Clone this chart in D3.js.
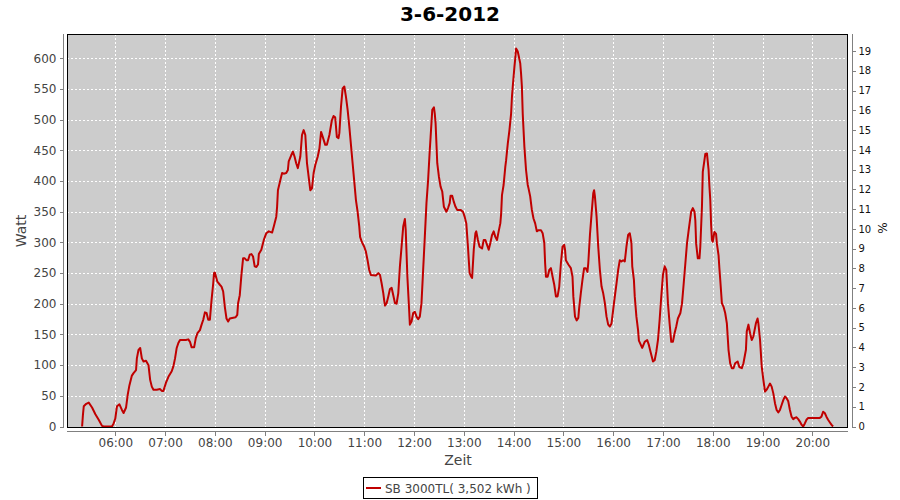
<!DOCTYPE html>
<html><head><meta charset="utf-8">
<script src="https://cdn.jsdelivr.net/npm/d3@7"></script>
<style>
html,body{margin:0;padding:0;background:#fff;}
svg{display:block;font-family:"DejaVu Sans",sans-serif;}
</style></head>
<body>
<svg id="chart" width="900" height="500"></svg>
<script>
const title = "3-6-2012";
const seriesName = "SB 3000TL( 3,502 kWh )";
const xLabel = "Zeit";
const yLabel = "Watt";
const y2Label = "%";
const times = [
"05:20","05:21","05:22","05:25","05:28","05:32","05:36","05:40","05:44","05:46","05:56","05:58",
"06:00","06:02","06:05","06:08","06:10","06:13","06:15","06:17","06:20","06:22","06:25","06:26","06:28","06:30","06:32","06:34","06:37","06:40","06:42","06:44","06:46","06:50","06:54","06:56","06:58",
"07:01","07:04","07:08","07:10","07:12","07:14","07:16","07:18","07:25","07:28","07:30","07:32","07:35","07:37","07:39","07:42","07:44","07:46","07:48","07:50","07:52","07:54","07:56","07:58","07:59",
"08:00","08:03","08:06","08:08","08:10","08:12","08:14","08:16","08:18","08:25","08:27","08:28","08:30","08:32","08:34","08:36","08:38","08:40","08:42","08:44","08:46","08:48","08:50","08:52","08:53","08:56","08:59",
"09:02","09:05","09:09","09:11","09:14","09:15","09:16","09:19","09:21","09:23","09:26","09:28","09:29","09:32","09:34","09:36","09:38","09:40","09:43","09:45","09:47","09:49","09:51","09:53","09:55","09:57","09:59",
"10:01","10:04","10:06","10:08","10:10","10:13","10:15","10:18","10:21","10:23","10:25","10:27","10:29","10:30","10:32","10:34","10:36","10:38","10:40","10:42","10:44","10:46","10:48","10:50","10:52","10:54","10:55","10:57",
"11:00","11:02","11:04","11:06","11:08","11:14","11:17","11:19","11:21","11:23","11:24","11:25","11:27","11:29","11:31","11:33","11:35","11:37","11:39","11:41","11:43","11:45","11:47","11:49","11:50","11:52","11:54","11:55","11:57","11:59",
"12:01","12:03","12:05","12:07","12:09","12:11","12:13","12:15","12:17","12:19","12:20","12:22","12:24","12:25","12:26","12:28","12:30","12:32","12:34","12:36","12:39","12:41","12:43","12:44","12:46","12:48","12:50","12:52","12:56","12:59",
"13:01","13:03","13:05","13:06","13:07","13:09","13:10","13:12","13:14","13:15","13:17","13:19","13:22","13:24","13:26","13:28","13:30","13:32","13:34","13:36","13:38","13:40","13:42","13:44","13:45","13:46","13:48","13:50","13:51","13:53","13:55","13:57","13:58","13:59",
"14:01","14:02","14:03","14:05","14:06","14:08","14:09","14:10","14:11","14:12","14:13","14:14","14:15","14:17","14:18","14:20","14:22","14:24","14:26","14:28","14:30","14:33","14:35","14:37","14:38","14:39","14:41","14:43","14:45","14:47","14:49","14:51","14:53","14:55","14:57","14:59",
"15:01","15:02","15:03","15:06","15:09","15:11","15:12","15:14","15:16","15:18","15:19","15:21","15:23","15:25","15:27","15:29","15:30","15:32","15:34","15:36","15:37","15:38","15:40","15:42","15:44","15:46","15:48","15:50","15:52","15:54","15:56","15:58",
"16:00","16:02","16:04","16:06","16:08","16:10","16:12","16:14","16:16","16:18","16:20","16:22","16:23","16:25","16:26","16:28","16:30","16:31","16:35","16:38","16:41","16:43","16:45","16:48","16:50","16:52","16:54","16:56","16:58",
"17:00","17:02","17:04","17:06","17:08","17:10","17:12","17:14","17:16","17:18","17:21","17:23","17:25","17:27","17:29","17:31","17:34","17:36","17:38","17:39","17:40","17:42","17:44","17:45","17:47","17:48","17:50","17:51","17:53","17:55","17:56","17:57","17:58","17:59",
"18:00","18:02","18:04","18:05","18:07","18:08","18:09","18:11","18:13","18:15","18:17","18:18","18:19","18:21","18:23","18:25","18:27","18:30","18:32","18:35","18:37","18:40","18:41","18:43","18:45","18:47","18:49","18:52","18:54","18:55","18:57","18:59",
"19:01","19:03","19:05","19:07","19:09","19:11","19:13","19:15","19:17","19:19","19:21","19:23","19:25","19:27","19:29","19:31","19:33","19:35","19:37","19:39","19:41","19:43","19:45","19:47","19:49","19:51","19:53","19:55",
"20:03","20:09","20:11","20:13","20:15","20:17","20:19","20:21","20:23","20:25"];
const watt = [
0,19,33,37,39,31,20,11,1,0,0,5,
13,33,36,27,22,31,52,67,83,87,92,111,125,128,111,106,107,100,76,65,60,60,61,58,58,
71,81,90,98,111,128,136,141,141,142,138,129,129,144,152,157,166,174,186,185,174,174,206,233,250,
251,236,231,228,220,195,176,171,176,178,182,201,214,247,274,274,271,271,280,281,277,261,260,264,281,288,304,
315,318,316,326,342,358,385,402,413,412,413,418,432,442,448,440,429,421,440,475,483,475,429,407,385,388,413,
426,440,453,480,472,459,459,475,499,506,504,472,470,478,521,551,554,537,516,489,459,429,399,369,350,326,309,301,
293,285,271,255,247,246,250,247,233,217,206,197,201,212,224,226,214,201,200,217,261,293,326,338,320,244,193,166,171,185,
187,179,175,179,201,255,309,364,402,451,472,516,520,510,494,429,407,391,383,358,350,356,364,376,376,366,358,353,353,350,
342,331,293,271,250,244,242,288,315,318,304,293,290,304,304,296,288,299,312,318,309,304,318,331,347,377,394,423,434,461,483,510,537,554,
586,600,616,611,605,592,575,554,510,483,456,437,418,394,388,375,353,339,331,318,320,320,315,299,266,244,244,255,258,244,231,212,212,228,266,293,
296,288,271,264,258,244,212,179,173,177,193,217,239,258,258,252,266,312,347,380,385,375,342,293,255,228,217,201,179,166,163,168,
190,212,233,255,271,269,271,269,293,312,315,299,261,239,212,179,157,140,128,138,141,133,122,106,108,122,141,174,212,
247,261,255,201,168,138,138,152,163,176,185,201,233,266,299,320,350,356,350,336,298,274,274,293,358,415,434,444,445,418,391,370,330,304,
301,317,314,298,279,258,240,201,195,185,168,147,125,103,95,95,103,106,97,95,103,125,155,166,152,141,147,168,176,168,141,98,
76,57,60,65,70,65,54,38,27,23,27,35,43,49,46,41,27,16,12,14,15,12,8,3,0,5,11,14,
14,14,16,24,22,16,11,7,3,0];
const xTicks = ["06:00","07:00","08:00","09:00","10:00","11:00","12:00","13:00","14:00","15:00","16:00","17:00","18:00","19:00","20:00"];
const yTicks = [0,50,100,150,200,250,300,350,400,450,500,550,600];
const y2Ticks = [0,1,2,3,4,5,6,7,8,9,10,11,12,13,14,15,16,17,18,19];
const xDomain = ["05:01:48","20:43:00"];
const yDomain = [-0.8, 639.6];
const y2Domain = [-0.025, 19.86];

const parseT = s => { const p = s.split(":").map(Number); return new Date(2012,5,3,p[0],p[1],p[2]||0); };
const data = times.map((t,i)=>({t:parseT(t), v:watt[i]}));

const svg = d3.select("#chart");
const L=67, R=848, T=34, B=427;
const x = d3.scaleTime().domain(xDomain.map(parseT)).range([L,R]);
const y = d3.scaleLinear().domain(yDomain).range([B,T]);
const y2 = d3.scaleLinear().domain(y2Domain).range([B,T]);

svg.append("text").attr("x",450).attr("y",21).attr("text-anchor","middle")
  .attr("font-size",20).attr("font-weight","bold").attr("fill","#000").text(title);

svg.append("rect").attr("x",L).attr("y",T).attr("width",R-L).attr("height",B-T).attr("fill","#cccccc");

const grid = svg.append("g").attr("stroke","#fff").attr("stroke-width",1).attr("stroke-dasharray","2,2").attr("shape-rendering","crispEdges");
xTicks.forEach(s=>{ const xx=Math.round(x(parseT(s)))+0.5; grid.append("line").attr("x1",xx).attr("x2",xx).attr("y1",T).attr("y2",B); });
yTicks.forEach(v=>{ const yy=Math.round(y(v))+0.5; grid.append("line").attr("x1",L).attr("x2",R).attr("y1",yy).attr("y2",yy); });

const line = d3.line().x(d=>x(d.t)).y(d=>y(d.v));
svg.append("path").datum(data).attr("d",line).attr("fill","none")
  .attr("stroke","#c00000").attr("stroke-width",2).attr("stroke-linejoin","round");

svg.append("rect").attr("x",L+0.5).attr("y",T+0.5).attr("width",R-L-1).attr("height",B-T).attr("fill","none")
  .attr("stroke","#000").attr("stroke-width",1).attr("shape-rendering","crispEdges");

const gl = svg.append("g").attr("transform","translate(63.5,0)")
  .call(d3.axisLeft(y).tickValues(yTicks).tickSize(4).tickPadding(3));
const gb = svg.append("g").attr("transform","translate(0,431.5)")
  .call(d3.axisBottom(x).tickValues(xTicks.map(parseT)).tickFormat(d3.timeFormat("%H:%M")).tickSize(4).tickPadding(3));
const gr = svg.append("g").attr("transform","translate(852.5,0)")
  .call(d3.axisRight(y2).tickValues(y2Ticks).tickSize(3).tickPadding(3));

[gl,gb,gr].forEach(g=>{
  g.select(".domain").attr("stroke","#808080").attr("shape-rendering","crispEdges");
  g.selectAll(".tick line").attr("stroke","#808080").attr("shape-rendering","crispEdges");
  g.selectAll("text").attr("font-family","DejaVu Sans, sans-serif").attr("fill","#444");
});
gl.select(".domain").attr("d",`M0,${T}V${B+1}`);
gb.select(".domain").attr("d",`M${L},0H${R}`);
gr.select(".domain").attr("d",`M0,${T}V${B+1}`);
gl.selectAll("text").attr("font-size",12);
gb.selectAll("text").attr("font-size",12);
gr.selectAll("text").attr("font-size",10).attr("fill","#111");

svg.append("text").attr("transform","translate(26,231) rotate(-90)").attr("text-anchor","middle")
  .attr("font-size",14).attr("fill","#444").text(yLabel);
svg.append("text").attr("x",458).attr("y",465).attr("text-anchor","middle")
  .attr("font-size",14).attr("fill","#444").text(xLabel);
svg.append("text").attr("transform","translate(887,228) rotate(-90)").attr("text-anchor","middle")
  .attr("font-size",12).attr("fill","#111").text(y2Label);

const lg = svg.append("g");
lg.append("rect").attr("x",363.5).attr("y",477.5).attr("width",174).attr("height",21)
  .attr("fill","#fff").attr("stroke","#000").attr("shape-rendering","crispEdges");
lg.append("line").attr("x1",366).attr("x2",381).attr("y1",488).attr("y2",488)
  .attr("stroke","#c00000").attr("stroke-width",2);
lg.append("text").attr("x",385).attr("y",492.5).attr("font-size",12).attr("fill","#444").text(seriesName);
</script>
</body></html>
